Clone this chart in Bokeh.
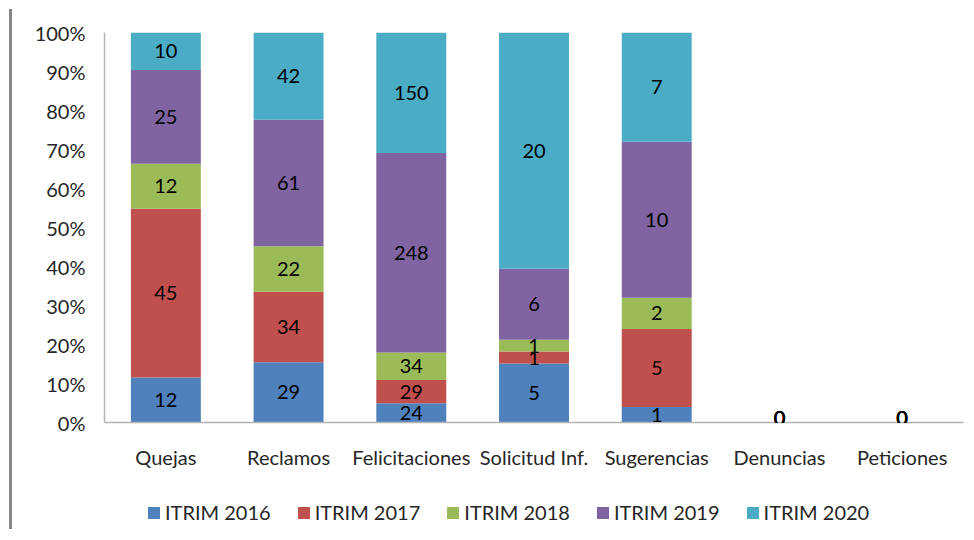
from bokeh.plotting import figure
from bokeh.models import ColumnDataSource, FactorRange, Legend, LegendItem, NumeralTickFormatter, FixedTicker, LabelSet
from bokeh.layouts import column
from bokeh.core.properties import value
from bokeh.embed import file_html
from bokeh.resources import INLINE

categories = ["Quejas", "Reclamos", "Felicitaciones", "Solicitud Inf.", "Sugerencias", "Denuncias", "Peticiones"]
series_names = ["ITRIM 2016", "ITRIM 2017", "ITRIM 2018", "ITRIM 2019", "ITRIM 2020"]
itrim_2016 = [12, 29, 24, 5, 1, 0, 0]
itrim_2017 = [45, 34, 29, 1, 5, 0, 0]
itrim_2018 = [12, 22, 34, 1, 2, 0, 0]
itrim_2019 = [25, 61, 248, 6, 10, 0, 0]
itrim_2020 = [10, 42, 150, 20, 7, 0, 0]
colors = ["#4F81BD", "#C0504D", "#9BBB59", "#8064A2", "#4BACC6"]
y_ticks = [0, 0.1, 0.2, 0.3, 0.4, 0.5, 0.6, 0.7, 0.8, 0.9, 1.0]

series = [itrim_2016, itrim_2017, itrim_2018, itrim_2019, itrim_2020]
keys = ["s0", "s1", "s2", "s3", "s4"]
totals = [sum(s[i] for s in series) for i in range(len(categories))]
frac = [[(s[i] / totals[i]) if totals[i] else 0 for i in range(len(categories))] for s in series]

data = {"cat": categories}
for k, f in zip(keys, frac):
    data[k] = f
src = ColumnDataSource(data)

FONT = "Lato"
TXT = "#262626"
FS = "20px"
FRAME = "#868686"

p = figure(x_range=FactorRange(*categories, range_padding=0), y_range=(0, 1),
           width=958, height=467, output_backend="svg", toolbar_location=None,
           min_border_left=92, min_border_top=20, min_border_right=7, min_border_bottom=57)
p.x_range.range_padding = 0

renderers = p.vbar_stack(keys, x="cat", width=0.57, color=colors, source=src, line_color=None)

# data labels (labels of empty categories lifted so they are not clipped at the axis)
lx, ly, lt, lo = [], [], [], []
for i, c in enumerate(categories):
    base = 0
    for j, s in enumerate(series):
        f = frac[j][i]
        lx.append(c)
        ly.append(base + f / 2)
        lt.append(str(s[i]))
        lo.append(5 if totals[i] == 0 else 0)
        base += f
lsrc = ColumnDataSource(dict(x=lx, y=ly, t=lt, yo=lo))
labels = LabelSet(x="x", y="y", text="t", y_offset="yo", source=lsrc, text_align="center",
                  text_baseline="middle", text_font=value(FONT), text_font_size=value(FS),
                  text_color="#000000")
p.add_layout(labels)

p.grid.visible = False
p.outline_line_color = None
p.background_fill_color = "white"

p.yaxis.ticker = FixedTicker(ticks=y_ticks)
p.yaxis.formatter = NumeralTickFormatter(format="0%")
for ax in (p.xaxis, p.yaxis):
    ax.axis_line_color = "#B3B3B3"
    ax.axis_line_width = 1.5
    ax.major_tick_line_color = None
    ax.minor_tick_line_color = None
    ax.major_tick_out = 0
    ax.major_tick_in = 0
    ax.major_label_text_font = FONT
    ax.major_label_text_font_size = FS
    ax.major_label_text_color = TXT
p.yaxis.major_label_standoff = 19
p.xaxis.major_label_standoff = 22

# legend in its own strip below the chart; proxies are zero-height bars, one per series
p2 = figure(width=958, height=50, output_backend="svg", toolbar_location=None,
            x_range=FactorRange(*series_names), y_range=(0, 1),
            min_border_left=0, min_border_right=0, min_border_top=0, min_border_bottom=0)
p2.axis.visible = False
p2.grid.visible = False
p2.outline_line_color = None
dummies = [p2.vbar(x=[n], top=[0], bottom=[0], width=0.01, fill_color=c, line_color=None)
           for n, c in zip(series_names, colors)]
items = [LegendItem(label=n, renderers=[r]) for n, r in zip(series_names, dummies)]
legend = Legend(items=items, orientation="horizontal", location=(42, 5),
                glyph_width=15, glyph_height=15, label_standoff=4, spacing=25,
                label_text_font=FONT, label_text_font_size=FS, label_text_color=TXT,
                border_line_color=None, background_fill_alpha=0, margin=0, padding=0)
p2.add_layout(legend)

# thin strip forming the top edge of the chart border
p0 = figure(width=958, height=3, output_backend="svg", toolbar_location=None,
            min_border_left=0, min_border_right=0, min_border_top=0, min_border_bottom=0)
p0.axis.visible = False
p0.grid.visible = False
p0.outline_line_color = None
p0.background_fill_color = FRAME
p0.border_fill_color = FRAME

layout = column(p0, p, p2, spacing=0)
layout.styles = {"border-left": "3px solid " + FRAME, "margin-left": "9px", "margin-top": "9px"}

open("out.html", "w").write(file_html(layout, INLINE))
